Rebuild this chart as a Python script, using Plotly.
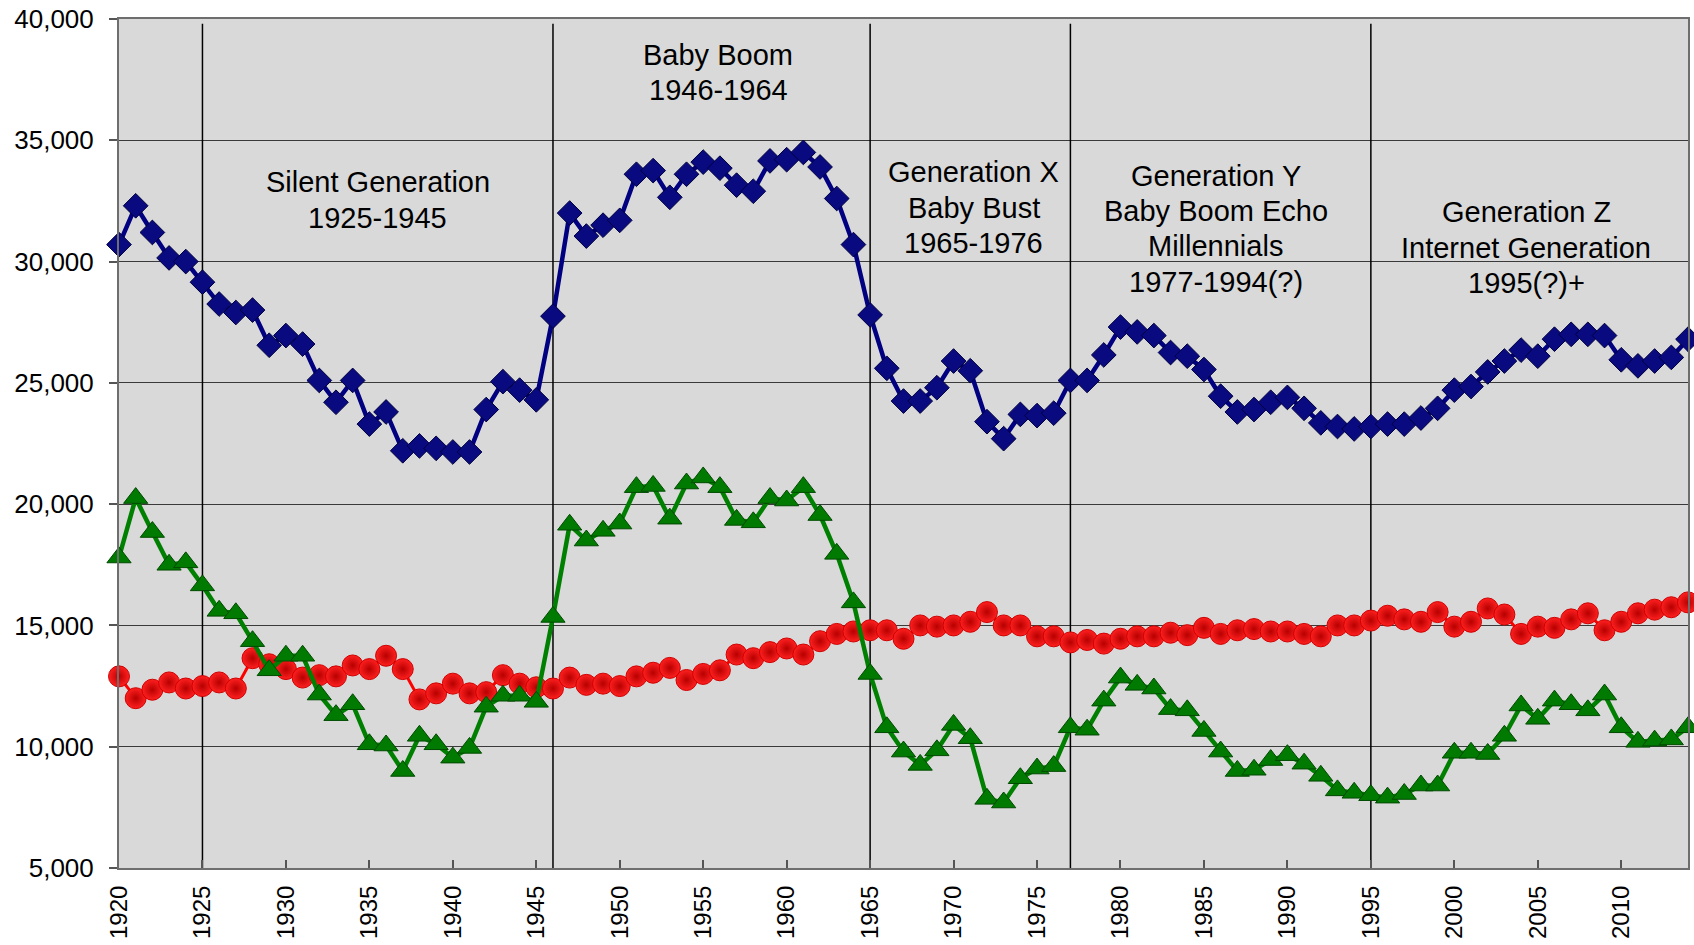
import plotly.graph_objects as go

years = list(range(1920, 2015))

blue = [30700, 32300, 31200, 30150, 30000, 29150, 28250, 27900, 28000, 26550,
        26950, 26600, 25100, 24200, 25100, 23300, 23800, 22200, 22400, 22300,
        22150, 22150, 23900, 25050, 24700, 24300, 27750, 32000, 31050, 31500,
        31700, 33600, 33750, 32650, 33600, 34100, 33850, 33150, 32900, 34150,
        34200, 34500, 33900, 32600, 30700, 27800, 25600, 24250, 24250, 24800,
        25900, 25500, 23400, 22700, 23700, 23650, 23750, 25100, 25100, 26150,
        27300, 27100, 26950, 26250, 26100, 25550, 24450, 23800, 23900, 24200,
        24400, 23950, 23350, 23200, 23100, 23200, 23300, 23300, 23550, 23950,
        24700, 24850, 25450, 25900, 26350, 26100, 26800, 27000, 27000, 26950,
        25950, 25700, 25900, 26050, 26800]

red = [12900, 12000, 12350, 12650, 12400, 12500, 12650, 12400, 13650, 13400,
       13200, 12850, 12950, 12900, 13350, 13200, 13750, 13200, 11950, 12200,
       12600, 12200, 12250, 12950, 12600, 12450, 12400, 12850, 12550, 12600,
       12500, 12900, 13050, 13250, 12750, 13000, 13150, 13800, 13650, 13900,
       14050, 13800, 14350, 14650, 14750, 14800, 14800, 14450, 15000, 14950,
       15000, 15150, 15550, 15000, 15000, 14550, 14550, 14300, 14400, 14250,
       14450, 14550, 14550, 14700, 14600, 14900, 14650, 14800, 14850, 14750,
       14750, 14650, 14550, 15000, 15000, 15200, 15400, 15250, 15150, 15550,
       14950, 15150, 15700, 15450, 14650, 14950, 14900, 15250, 15500, 14800,
       15150, 15500, 15650, 15750, 15950]

green = [17800, 20250, 18850, 17500, 17600, 16650, 15600, 15500, 14350, 13150,
         13750, 13750, 12150, 11300, 11750, 10100, 10050, 9000, 10450, 10100,
         9550, 9950, 11650, 12100, 12100, 11850, 15350, 19150, 18500, 18900,
         19200, 20700, 20750, 19400, 20850, 21100, 20700, 19350, 19250, 20250,
         20150, 20700, 19550, 17950, 15950, 13000, 10800, 9800, 9250, 9850,
         10900, 10350, 7850, 7700, 8700, 9100, 9200, 10800, 10700, 11900,
         12850, 12550, 12400, 11550, 11500, 10650, 9800, 9000, 9050, 9450,
         9650, 9300, 8800, 8200, 8100, 8000, 7900, 8050, 8400, 8400,
         9750, 9750, 9700, 10450, 11700, 11150, 11900, 11750, 11500, 12150,
         10800, 10200, 10250, 10300, 10800]

boundaries = [1925, 1946, 1965, 1977, 1995]

gen_labels = [
    (["Silent Generation", "1925-1945"], 1935.5, 33262),
    (["Baby Boom", "1946-1964"], 1955.9, 38528),
    (["Generation X", "Baby Bust", "1965-1976"], 1971.2, 33674),
    (["Generation Y", "Baby Boom Echo", "Millennials", "1977-1994(?)"], 1985.7, 33538),
    (["Generation Z", "Internet Generation", "1995(?)+"], 2004.3, 32025),
]
line_step = 1456

y_ticks = list(range(5000, 40001, 5000))
x_ticks = list(range(1920, 2011, 5))

FONT = "Liberation Sans, Arial, sans-serif"

fig = go.Figure()

fig.add_trace(go.Scatter(
    x=years, y=red, mode="lines+markers", name="red",
    line=dict(color="#ff0000", width=3),
    marker=dict(symbol="circle", size=21, color="#ff2020",
                gradient=dict(type="radial", color="#b80000"),
                line=dict(color="#d00000", width=1)),
    cliponaxis=False,
))
fig.add_trace(go.Scatter(
    x=years, y=green, mode="lines+markers", name="green",
    line=dict(color="#008000", width=4.5),
    marker=dict(symbol="triangle-up", size=21, color="#007a00",
                line=dict(color="#004a00", width=1)),
    cliponaxis=False,
))
fig.add_trace(go.Scatter(
    x=years, y=blue, mode="lines+markers", name="blue",
    line=dict(color="#000080", width=4.5),
    marker=dict(symbol="diamond", size=19, color="#0a0a80",
                line=dict(color="#000040", width=1)),
    cliponaxis=False,
))

for b in boundaries:
    fig.add_shape(type="line", xref="x", yref="y", x0=b, x1=b, y0=5000, y1=39800,
                  line=dict(color="#000000", width=1.5), layer="between")

for lines, xc, ytop in gen_labels:
    for i, t in enumerate(lines):
        fig.add_annotation(x=xc, y=ytop - i * line_step, xref="x", yref="y",
                           text=t, showarrow=False,
                           font=dict(family=FONT, size=29, color="#000000"),
                           xanchor="center", yanchor="middle")

fig.update_layout(
    width=1694, height=945,
    margin=dict(l=119, r=6, t=19, b=77, autoexpand=False),
    paper_bgcolor="#ffffff",
    plot_bgcolor="#d9d9d9",
    showlegend=False,
    font=dict(family=FONT, color="#000000"),
)

fig.update_xaxes(
    range=[1920, 2014], tickvals=x_ticks, ticktext=[str(v) for v in x_ticks],
    tickangle=-90, tickfont=dict(size=24, family=FONT, color="#000000"),
    showgrid=False, zeroline=False, automargin=False,
    showline=True, linecolor="#6e6e6e", linewidth=2, mirror=True,
    ticks="inside", ticklen=8, tickcolor="#555555", tickwidth=1.5,
    ticklabelstandoff=6,
)
fig.update_yaxes(
    range=[5000, 40000], tickvals=y_ticks, tickformat=",",
    tickfont=dict(size=26, family=FONT, color="#000000"),
    showgrid=True, gridcolor="#3a3a3a", gridwidth=1, zeroline=False,
    automargin=False,
    showline=True, linecolor="#6e6e6e", linewidth=2, mirror=True,
    ticks="outside", ticklen=8, tickcolor="#555555", tickwidth=1.5,
    ticklabelstandoff=10,
)

fig.write_html(
    "out.html",
    config={"displayModeBar": False},
    post_script="document.body.style.margin='0';document.body.style.overflow='hidden';",
)
